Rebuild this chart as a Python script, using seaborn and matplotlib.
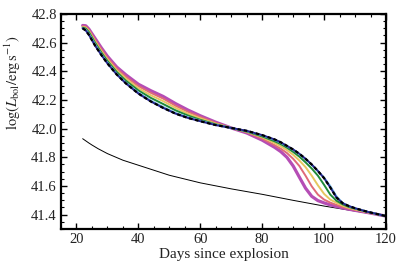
import numpy as np
import pandas as pd
import matplotlib
matplotlib.use("Agg")
import matplotlib.pyplot as plt
from matplotlib.ticker import MultipleLocator
import seaborn as sns

# ---------------------------------------------------------------
# data (days since explosion, log L_bol)
# ---------------------------------------------------------------
days = [22, 23, 24, 26, 28, 30, 33, 36, 40, 44, 48, 52, 56, 60, 65, 70, 75, 80, 84,
        86, 88, 90, 92, 94, 96, 98, 100, 102, 104, 106, 108, 110, 114, 120]

lum_magenta = [42.72, 42.718, 42.695, 42.63, 42.565, 42.505, 42.43, 42.375, 42.31, 42.265, 42.225,
               42.175, 42.13, 42.09, 42.045, 42.005, 41.97, 41.92, 41.87,
               41.84, 41.80, 41.74, 41.662, 41.585, 41.528, 41.498, 41.482, 41.468, 41.457,
               41.447, 41.438, 41.43, 41.415, 41.39]
lum_salmon = [42.715, 42.712, 42.69, 42.62, 42.555, 42.495, 42.42, 42.362, 42.297, 42.25, 42.21,
              42.16, 42.118, 42.082, 42.04, 42.005, 41.975, 41.93, 41.885,
              41.86, 41.83, 41.79, 41.74, 41.672, 41.598, 41.54, 41.505, 41.484, 41.468,
              41.453, 41.442, 41.433, 41.416, 41.39]
lum_yellow = [42.71, 42.705, 42.682, 42.61, 42.543, 42.483, 42.407, 42.348, 42.282, 42.233, 42.192,
              42.145, 42.105, 42.072, 42.035, 42.005, 41.978, 41.94, 41.90,
              41.877, 41.85, 41.818, 41.778, 41.732, 41.672, 41.605, 41.545, 41.505, 41.483,
              41.463, 41.448, 41.437, 41.417, 41.39]
lum_green = [42.705, 42.698, 42.674, 42.6, 42.532, 42.472, 42.395, 42.334, 42.267, 42.215, 42.172,
             42.128, 42.092, 42.062, 42.03, 42.005, 41.98, 41.946, 41.912,
             41.892, 41.867, 41.838, 41.805, 41.765, 41.722, 41.672, 41.608, 41.54, 41.497,
             41.472, 41.454, 41.442, 41.42, 41.39]
lum_blue = [42.70, 42.69, 42.662, 42.588, 42.52, 42.46, 42.383, 42.32, 42.252, 42.196, 42.152,
            42.11, 42.08, 42.055, 42.027, 42.005, 41.983, 41.953, 41.922,
            41.902, 41.878, 41.853, 41.823, 41.788, 41.748, 41.703, 41.658, 41.6, 41.528,
            41.482, 41.46, 41.445, 41.42, 41.39]
lum_black = [42.70, 42.685, 42.655, 42.58, 42.515, 42.455, 42.378, 42.315, 42.245, 42.19, 42.145,
             42.105, 42.075, 42.052, 42.025, 42.005, 41.985, 41.955, 41.925,
             41.905, 41.88, 41.855, 41.825, 41.79, 41.75, 41.705, 41.655, 41.59, 41.52,
             41.48, 41.46, 41.445, 41.42, 41.39]

tail_days = [22, 23, 24, 25, 27, 30, 35, 40, 50, 60, 70, 80, 90, 100, 110, 120]
tail_lum = [41.93, 41.915, 41.90, 41.886, 41.86, 41.826, 41.78, 41.745, 41.675, 41.622, 41.58,
            41.542, 41.50, 41.46, 41.425, 41.39]

x_ticks = [20, 40, 60, 80, 100, 120]
y_ticks = [41.4, 41.6, 41.8, 42.0, 42.2, 42.4, 42.6, 42.8]

# ---------------------------------------------------------------
# style
# ---------------------------------------------------------------
sns.set_theme(style="ticks")
plt.rcParams['font.family'] = ['Liberation Serif', 'DejaVu Serif']
plt.rcParams['mathtext.fontset'] = 'stix'

fig = plt.figure(figsize=(4.07, 2.71), dpi=100)
ax = fig.add_axes([61 / 407, 1 - 229 / 271, 325 / 407, 215 / 271])

curves = [
    (lum_magenta, "#b54db5", 2.3),
    (lum_salmon, "#df6a78", 1.4),
    (lum_yellow, "#e6c660", 1.4),
    (lum_green, "#1f8a3a", 1.4),
    (lum_blue, "#7cc2ea", 1.4),
    (lum_black, "#25258f", 1.4),
]

sns.lineplot(x=tail_days, y=tail_lum, ax=ax, color="black", linewidth=0.7)
for lum, col, lw in curves:
    df = pd.DataFrame({"day": days, "lum": lum})
    sns.lineplot(data=df, x="day", y="lum", ax=ax, color=col, linewidth=lw,
                 solid_capstyle="round", solid_joinstyle="round", sort=False)
sns.lineplot(x=days, y=lum_black, ax=ax, color="black", linewidth=1.6,
             linestyle=(0, (1.6, 1.2)))

ax.set_xlim(15, 120)
ax.set_ylim(41.3, 42.8)
ax.set_xticks(x_ticks)
ax.set_yticks(y_ticks)
ax.set_yticklabels([f"{v:.1f}" for v in y_ticks])
ax.xaxis.set_minor_locator(MultipleLocator(5))
ax.yaxis.set_minor_locator(MultipleLocator(0.05))
ax.tick_params(which="both", direction="in", top=True, right=True, labelsize=10.5,
               color="black", labelcolor="#222222", pad=3)
ax.tick_params(which="major", length=4, width=1.0)
ax.tick_params(which="minor", length=2.2, width=0.8)
for sp in ax.spines.values():
    sp.set_linewidth(1.6)
    sp.set_color("black")

ax.set_xlabel("Days since explosion", fontsize=11, color="#222222", labelpad=1)
ax.set_ylabel(r"$\log(L_{\rm bol}/{\rm erg\,s^{-1}})$", fontsize=10.5, color="#222222")
ax.yaxis.set_label_coords(-0.118, 0.68)

fig.savefig("out.png", dpi=100)
